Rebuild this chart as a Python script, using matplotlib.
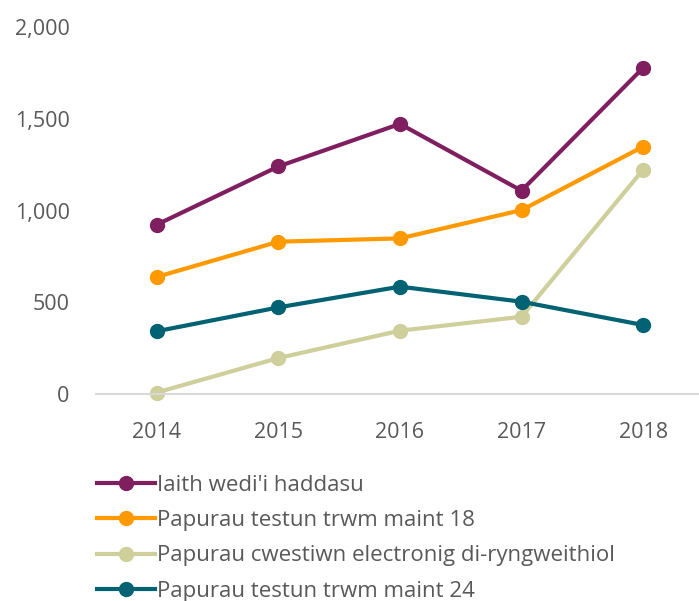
import matplotlib.pyplot as plt

plt.rcParams['font.family'] = ['Open Sans', 'DejaVu Sans']

years = [2014, 2015, 2016, 2017, 2018]
series_names = ["Iaith wedi'i haddasu",
                "Papurau testun trwm maint 18",
                "Papurau cwestiwn electronig di-ryngweithiol",
                "Papurau testun trwm maint 24"]
iaith = [923, 1240, 1472, 1108, 1777]
maint18 = [638, 830, 848, 1002, 1348]
electronig = [8, 196, 345, 421, 1222]
maint24 = [342, 472, 585, 503, 376]
colors = ['#7F1F5F', '#FF9900', '#CFCF9C', '#006272']

fig = plt.figure(figsize=(6.99, 6.01), dpi=100)
ax = fig.add_axes([96 / 699, 207 / 601, 1 - 96 / 699, 367 / 601])

for vals, name, c in zip([iaith, maint18, electronig, maint24], series_names, colors):
    ax.plot(years, vals, color=c, lw=3, marker='o', ms=10, label=name, clip_on=False)

ax.set_ylim(0, 2000)
ax.set_xlim(2013.5, 2018.46)
ax.set_yticks([0, 500, 1000, 1500, 2000])
ax.set_yticklabels(['0', '500', '1,000', '1,500', '2,000'])
ax.set_xticks(years)
for s in ['top', 'right', 'left']:
    ax.spines[s].set_visible(False)
ax.spines['bottom'].set_color('#D9D9D9')
ax.spines['bottom'].set_linewidth(1.5)
ax.tick_params(length=0, labelsize=15.5, colors='#595959')
ax.tick_params(axis='y', pad=19)
ax.tick_params(axis='x', pad=20)

fig.legend(loc='upper left', bbox_to_anchor=(88 / 699, 1 - 466 / 601), frameon=False,
           fontsize=16, labelcolor='#595959', handlelength=2.6, handletextpad=0.1,
           labelspacing=0.64, borderaxespad=0)

fig.savefig('out.png')
